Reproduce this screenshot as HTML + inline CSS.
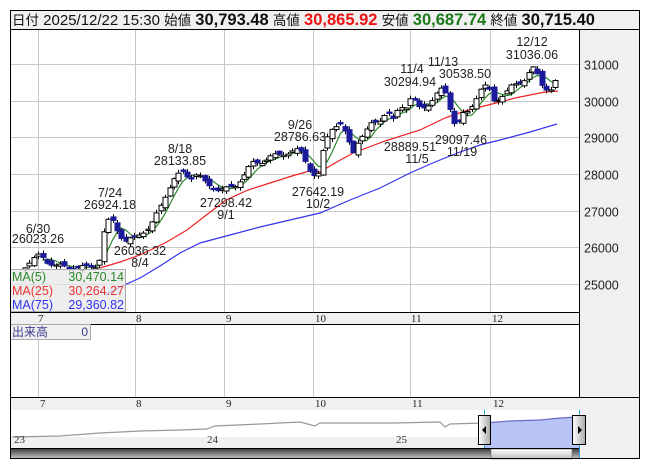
<!DOCTYPE html>
<html><head><meta charset="utf-8"><style>
body{margin:0;background:#fff;width:653px;height:470px;overflow:hidden;font-family:"Liberation Sans","Noto Sans CJK JP",sans-serif}
</style></head><body>
<svg id="s" width="653" height="470" xmlns="http://www.w3.org/2000/svg" font-family="Liberation Sans, Noto Sans CJK JP, sans-serif">
<rect x="0" y="0" width="653" height="470" fill="#fff"/>
<rect x="10" y="10" width="630" height="19" fill="#f0f0f0"/>
<text x="12" y="25" font-size="15" fill="#111"><tspan font-size="13.5">日付</tspan> 2025/12/22 15:30 <tspan font-size="13.5">始値</tspan> <tspan font-weight="bold" font-size="16.5">30,793.48</tspan> <tspan font-size="13.5">高値</tspan> <tspan font-weight="bold" font-size="16.5" fill="#ee1111">30,865.92</tspan> <tspan font-size="13.5">安値</tspan> <tspan font-weight="bold" font-size="16.5" fill="#1a7a1a">30,687.74</tspan> <tspan font-size="13.5">終値</tspan> <tspan font-weight="bold" font-size="16.5">30,715.40</tspan></text>
<rect x="579" y="29" width="61" height="368" fill="#f0f0f0"/>
<g id="grid" stroke="#c8c8c8" stroke-width="1"></g>
<g id="ma"></g>
<g id="candles"></g>
<g id="labels" font-size="12.5" fill="#222" text-anchor="middle"></g>
<rect x="10" y="312" width="569" height="12" fill="#f0f0f0"/>
<line x1="10" y1="312.5" x2="579" y2="312.5" stroke="#000"/>
<line x1="10" y1="324.5" x2="579" y2="324.5" stroke="#000"/>
<g font-family="Liberation Serif, serif" font-size="11" fill="#222">
<text x="38" y="322">7</text><text x="136" y="322">8</text><text x="226" y="322">9</text><text x="315" y="322">10</text><text x="411" y="322">11</text><text x="492" y="322">12</text>
</g>
<rect x="10.5" y="269.5" width="115" height="42" fill="#e8e8e8" fill-opacity="0.75" stroke="#aaa"/>
<g font-size="12.5">
<text x="12" y="281" fill="#2a8a2a">MA(5)</text><text x="124" y="281" fill="#2a8a2a" text-anchor="end">30,470.14</text>
<text x="12" y="295" fill="#ee3333">MA(25)</text><text x="124" y="295" fill="#ee3333" text-anchor="end">30,264.27</text>
<text x="12" y="309" fill="#3333ee">MA(75)</text><text x="124" y="309" fill="#3333ee" text-anchor="end">29,360.82</text>
</g>
<rect x="10.5" y="324.5" width="80" height="15" fill="#f0f0f0" stroke="#aaa"/>
<text x="12" y="336" font-size="12" fill="#3a3a8a">出来高</text><text x="88" y="336" font-size="12" fill="#3a3a8a" text-anchor="end">0</text>
<rect x="10" y="397" width="630" height="13" fill="#f0f0f0"/>
<line x1="10" y1="397.5" x2="640" y2="397.5" stroke="#000"/>
<line x1="10" y1="410.5" x2="640" y2="410.5" stroke="#000"/>
<g font-family="Liberation Serif, serif" font-size="11" fill="#222">
<text x="40" y="407">7</text><text x="136" y="407">8</text><text x="226" y="407">9</text><text x="315" y="407">10</text><text x="412" y="407">11</text><text x="493" y="407">12</text>
</g>
<rect x="579" y="410" width="61" height="49" fill="#f0f0f0"/>
<rect x="10" y="410" width="569" height="38" fill="#fff"/>
<polygon points="10,448 10,437 579,437 579,448" fill="#f0f0f0"/>
<polygon id="navfill" fill="#b8c4f6"/>
<polyline id="navline" fill="none" stroke="#999" stroke-width="1.2"/>
<polyline id="navline2" fill="none" stroke="#6a6ac8" stroke-width="1.2"/>
<g font-family="Liberation Serif, serif" font-size="11" fill="#333"><text x="14" y="443">23</text><text x="207" y="443">24</text><text x="396" y="443">25</text></g>
<line x1="484.5" y1="410" x2="484.5" y2="459" stroke="#29a0d8"/>
<line x1="579.5" y1="410" x2="579.5" y2="459" stroke="#29a0d8"/>
<defs><linearGradient id="hg" x1="0" x2="1"><stop offset="0" stop-color="#fff"/><stop offset="1" stop-color="#aaa"/></linearGradient>
<linearGradient id="sg" x1="0" y1="0" x2="0" y2="1"><stop offset="0" stop-color="#333"/><stop offset="1" stop-color="#ccc"/></linearGradient>
<linearGradient id="tg" x1="0" y1="0" x2="0" y2="1"><stop offset="0" stop-color="#fff"/><stop offset="1" stop-color="#bbb"/></linearGradient></defs>
<rect x="478.5" y="415.5" width="12" height="29" fill="url(#hg)" stroke="#000"/>
<polygon points="482,430 486,426 486,434" fill="#000"/>
<rect x="572.5" y="415.5" width="13" height="29" fill="url(#hg)" stroke="#000"/>
<polygon points="582,430 578,426 578,434" fill="#000"/>
<rect x="10" y="448" width="569" height="11" fill="url(#sg)"/>
<rect x="491" y="449" width="81" height="10" fill="url(#tg)" stroke="#666" stroke-width="0.6"/>
<line x1="10" y1="448.5" x2="579" y2="448.5" stroke="#000"/>
<rect x="10.5" y="10.5" width="629" height="448" fill="none" stroke="#000"/>
<line x1="10" y1="29.5" x2="640" y2="29.5" stroke="#000"/>
<line x1="579.5" y1="29" x2="579.5" y2="397" stroke="#000"/>
<g id="plab" font-size="12.5" fill="#222"></g>
</svg>
<script>
var NS="http://www.w3.org/2000/svg";
function el(p,t,a){var e=document.createElementNS(NS,t);for(var k in a)e.setAttribute(k,a[k]);document.getElementById(p).appendChild(e);return e;}
function Y(p){return 64+(31000-p)*0.03667;}
[38,135,224,313,410,490].forEach(function(x){el("grid","line",{x1:x+.5,y1:29,x2:x+.5,y2:397});});
[31000,30000,29000,28000,27000,26000,25000].forEach(function(p){var y=Math.round(Y(p))+.5;el("grid","line",{x1:10,y1:y,x2:579,y2:y});
 var t=el("plab","text",{x:584,y:y+5});t.textContent=p;});
var K=[[25,25500],[35,25700],[40,25800],[45,25650],[55,25500],[70,25450],[85,25450],[95,25500],[100,25700],[105,26600],[111,26800],[115,26600],[120,26350],[125,26150],[135,26250],[140,26400],[150,26550],[155,26800],[160,27100],[168,27600],[175,27900],[183,28050],[190,27900],[197,28000],[205,27750],[212,27650],[220,27550],[228,27600],[235,27700],[245,28000],[252,28300],[262,28350],[270,28450],[280,28550],[290,28600],[300,28650],[305,28400],[312,28000],[318,27900],[325,28900],[332,29300],[340,29350],[347,29000],[353,28600],[358,28900],[365,29100],[372,29400],[380,29500],[387,29700],[392,29400],[400,29900],[405,29800],[412,30100],[418,29800],[425,29850],[432,30000],[438,30200],[443,30350],[448,30100],[452,29500],[457,29300],[462,29600],[468,29700],[474,30000],[480,30300],[487,30400],[494,30000],[500,30100],[506,30200],[512,30400],[518,30500],[525,30600],[530,30800],[535,30900],[540,30500],[546,30350],[551,30300],[555,30500],[558,30720]];
function interp(x){for(var i=0;i<K.length-1;i++){if(x<=K[i+1][0]){var a=K[i],b=K[i+1];return a[1]+(b[1]-a[1])*(x-a[0])/(b[0]-a[0]);}}return K[K.length-1][1];}
var xs=[],cs=[];for(var x=25;x<=558.1;x+=4.38){xs.push(x);cs.push(interp(x)+Math.sin(x*1.7)*60);}
var prev=cs[0]-50;
for(var i=0;i<xs.length;i++){var c=cs[i],o=prev+Math.sin(i*2.3)*70;if(Math.abs(c-o)<25)o=c-40*Math.sign(Math.sin(i*3.1)||1);
 var hi=Math.max(o,c)+20+Math.abs(Math.sin(i*1.3))*70,lo=Math.min(o,c)-20-Math.abs(Math.cos(i*0.9))*70;
 var x=Math.round(xs[i])+.5;
 el("candles","line",{x1:x,y1:Y(hi),x2:x,y2:Y(lo),stroke:"#000","stroke-width":1});
 var up=c>o;var t=Y(Math.max(o,c)),b=Y(Math.min(o,c));
 el("candles","rect",{x:x-2.5,y:t,width:5,height:Math.max(b-t,1),fill:up?"#fff":"#1a1a9a",stroke:up?"#000":"#1a1a9a","stroke-width":1});
 prev=c;}
var m5=[];for(var i=4;i<cs.length;i++){var s=0;for(var j=0;j<5;j++)s+=cs[i-j];m5.push(xs[i].toFixed(1)+","+Y(s/5).toFixed(1));}
el("ma","polyline",{points:m5.join(" "),fill:"none",stroke:"#2a8a2a","stroke-width":1.2});
el("ma","polyline",{points:"100,268 120,262 140,255 165,243 187,230 205,216 226,200 248,190 270,183 292,176 313,170 320,172 335,163 353,153 385,141 420,130 445,118 462,112 480,107 500,102 515,98 530,95 545,92 558,91",fill:"none",stroke:"#ee2222","stroke-width":1.2});
el("ma","polyline",{points:"105,295 120,287 140,278 160,266 180,253 200,243 230,235 260,227 290,220 320,213 350,200 380,188 410,173 435,162 460,152 480,145 500,140 530,132 557,124",fill:"none",stroke:"#3333ee","stroke-width":1.2});
var L=[[38,233,"6/30"],[38,243,"26023.26"],[110,197,"7/24"],[110,209,"26924.18"],[140,255,"26036.32"],[140,267,"8/4"],[180,153,"8/18"],[180,165,"28133.85"],[226,207,"27298.42"],[226,219,"9/1"],[300,129,"9/26"],[300,141,"28786.63"],[318,196,"27642.19"],[318,208,"10/2"],[412,73,"11/4"],[443,66,"11/13"],[465,78,"30538.50"],[410,86,"30294.94"],[410,151,"28889.51"],[417,163,"11/5"],[461,144,"29097.46"],[462,156,"11/19"],[532,46,"12/12"],[532,59,"31036.06"]];
L.forEach(function(l){var t=el("labels","text",{x:l[0],y:l[1]});t.textContent=l[2];});
var nv=[[12,437],[60,436],[100,433],[140,431],[180,430],[207,429],[215,426],[260,424],[300,422],[315,426],[320,423],[380,423],[395,423],[440,422],[445,427],[450,424],[484,423]];
document.getElementById("navline").setAttribute("points",nv.map(function(p){return p.join(",")}).join(" "));
var nv2=[[484,423],[510,421],[540,420],[560,418],[579,417]];
document.getElementById("navline2").setAttribute("points",nv2.map(function(p){return p.join(",")}).join(" "));
document.getElementById("navfill").setAttribute("points","484,448 "+nv2.map(function(p){return p.join(",")}).join(" ")+" 579,448");
</script>
</body></html>
